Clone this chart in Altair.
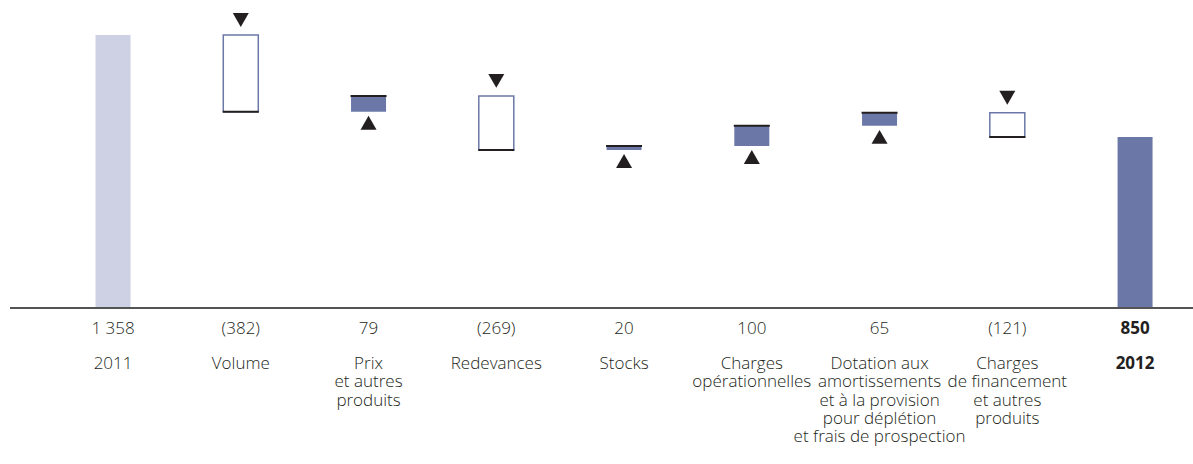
import altair as alt
import pandas as pd

categories = [
    "2011", "Volume", "Prix\net autres\nproduits", "Redevances", "Stocks",
    "Charges\nopérationnelles",
    "Dotation aux\namortissements\net à la provision\npour déplétion\net frais de prospection",
    "Charges\nde financement\net autres\nproduits", "2012",
]
deltas = [1358, -382, 79, -269, 20, 100, 65, -121, 850]
value_labels = ["1 358", "(382)", "79", "(269)", "20", "100", "65", "(121)", "850"]
kinds = ["total", "dec", "inc", "dec", "inc", "inc", "inc", "dec", "total"]

rows = []
level = 0
for i, (c, d, lab, k) in enumerate(zip(categories, deltas, value_labels, kinds)):
    if k == "total":
        start, end = 0, d
        level = d
    else:
        start = level
        end = level + d
        level = end
    rows.append(dict(idx=i, cat=c, start=start, end=end, lo=min(start, end),
                     hi=max(start, end), label=lab, kind=k,
                     bold=(i == len(categories) - 1)))
df = pd.DataFrame(rows)

DARK = "#231f20"
BLUE = "#6b78a7"
LIGHT = "#cdd1e3"
FONT = "Open Sans"
FS = 17
W = 300

x = alt.X("cat:N", sort=categories, axis=None,
          scale=alt.Scale(paddingInner=0.726, paddingOuter=0.493, align=0.679))
y_scale = alt.Scale(domain=[0, 1532], nice=False, zero=True)

base = alt.Chart(df).encode(x=x)

totals = base.transform_filter("datum.kind == 'total'").mark_bar().encode(
    y=alt.Y("lo:Q", scale=y_scale, axis=None), y2="hi:Q",
    color=alt.Color("cat:N", scale=alt.Scale(domain=["2011", "2012"], range=[LIGHT, BLUE]), legend=None),
)
decs = base.transform_filter("datum.kind == 'dec'").mark_bar(
    fill="white", stroke=BLUE, strokeWidth=1.5).encode(
    y=alt.Y("lo:Q", scale=y_scale), y2="hi:Q")
incs = base.transform_filter("datum.kind == 'inc'").mark_bar(color=BLUE).encode(
    y=alt.Y("lo:Q", scale=y_scale), y2="hi:Q")
endlines = base.transform_filter("datum.kind != 'total'").mark_tick(
    color=DARK, thickness=2, size=36, opacity=1).encode(
    y=alt.Y("end:Q", scale=y_scale))
tri_down = base.transform_filter("datum.kind == 'dec'").mark_point(
    shape="triangle-down", filled=True, color=DARK, size=256, opacity=1, yOffset=-15).encode(
    y=alt.Y("start:Q", scale=y_scale))
tri_up = base.transform_filter("datum.kind == 'inc'").mark_point(
    shape="triangle-up", filled=True, color=DARK, size=256, opacity=1, yOffset=11).encode(
    y=alt.Y("start:Q", scale=y_scale))

baseline = alt.Chart(df).mark_rule(color="#555555", strokeWidth=1.5).encode(
    y=alt.datum(0, scale=y_scale), x=alt.value(0), x2=alt.value(1183))

vals = base.transform_filter("!datum.bold").mark_text(
    font=FONT, fontSize=FS, fontWeight=W, color=DARK, baseline="middle", dy=21).encode(
    y=alt.datum(0, scale=y_scale), text="label:N")
vals_b = base.transform_filter("datum.bold").mark_text(
    font=FONT, fontSize=FS, color=DARK, baseline="middle", dy=21, fontWeight="bold").encode(
    y=alt.datum(0, scale=y_scale), text="label:N")
cats = base.transform_filter("!datum.bold").mark_text(
    font=FONT, fontSize=FS, fontWeight=W, color=DARK, baseline="top", dy=48, lineBreak="\n", lineHeight=18.3).encode(
    y=alt.datum(0, scale=y_scale), text="cat:N")
cats_b = base.transform_filter("datum.bold").mark_text(
    font=FONT, fontSize=FS, color=DARK, baseline="top", dy=48, fontWeight="bold").encode(
    y=alt.datum(0, scale=y_scale), text="cat:N")

chart = alt.layer(totals, decs, incs, endlines, tri_down, tri_up, baseline,
                  vals, vals_b, cats, cats_b).properties(
    width=1183, height=308,
    padding={"left": 10, "top": 0, "right": 0, "bottom": 154},
    autosize=alt.AutoSizeParams(type="none"),
).configure_view(stroke=None)
chart.save("out.html", embed_options={"renderer": "svg", "actions": False})
